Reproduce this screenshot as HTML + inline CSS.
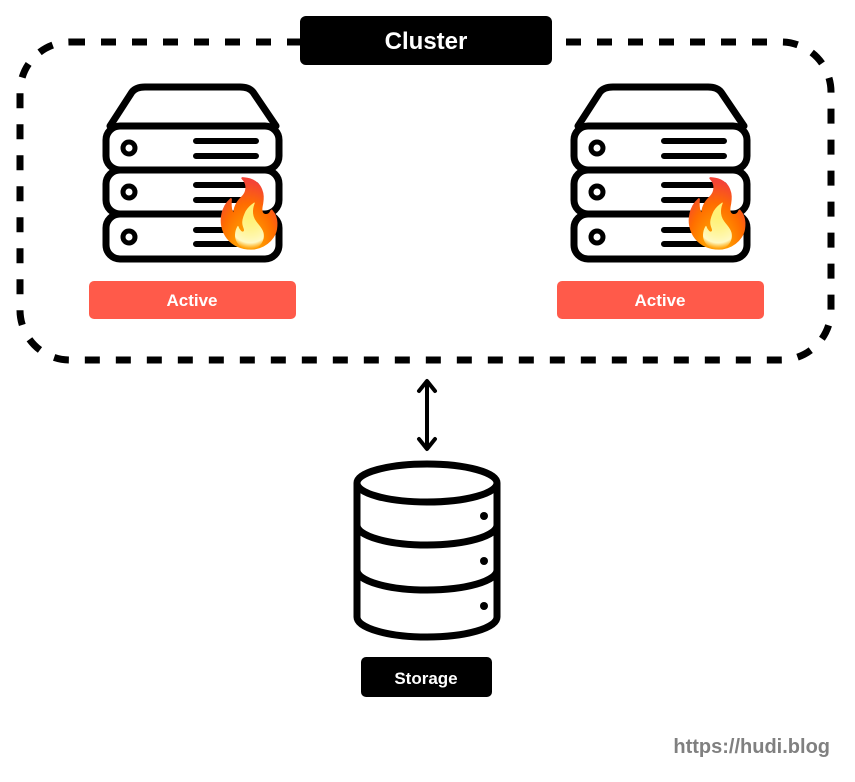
<!DOCTYPE html>
<html><head><meta charset="utf-8"><style>
html,body{margin:0;padding:0;background:#fff;}
body{width:855px;height:782px;overflow:hidden;position:relative;font-family:"Liberation Sans","DejaVu Sans",sans-serif;}
svg{position:absolute;left:0;top:0;}
.fire{position:absolute;font-size:66px;line-height:1;font-family:"Noto Color Emoji","DejaVu Sans",sans-serif;}
</style></head><body>
<svg width="855" height="782" viewBox="0 0 855 782">
<rect x="20" y="42" width="811" height="318" rx="50" fill="none" stroke="#000" stroke-width="7" stroke-dasharray="15 16"/>
<rect x="300" y="16" width="252" height="49" rx="6" fill="#000"/>
<text x="426" y="49" text-anchor="middle" font-size="24" font-weight="bold" fill="#fff" font-family="Liberation Sans, sans-serif">Cluster</text>
<g id="srv" fill="none" stroke="#000" stroke-width="7" stroke-linejoin="round" stroke-linecap="round">
<path d="M110 126 L132 92 Q136 87 145 87 L240 87 Q249 87 253 92 L276 126"/>
<rect x="106" y="126" width="173" height="44" rx="14" fill="#fff"/>
<rect x="106" y="170" width="173" height="44" rx="14" fill="#fff"/>
<rect x="106" y="214" width="173" height="45" rx="14" fill="#fff"/>
<circle cx="129" cy="148" r="6" stroke-width="5"/>
<circle cx="129" cy="192" r="6" stroke-width="5"/>
<circle cx="129" cy="237" r="6" stroke-width="5"/>
<path d="M196 141H256M196 156H256M196 185H256M196 200H256M196 230H256M196 244H256" stroke-width="6"/>
</g>
<use href="#srv" x="468"/>
<rect x="89" y="281" width="207" height="38" rx="5" fill="#FF5A4A"/>
<rect x="557" y="281" width="207" height="38" rx="5" fill="#FF5A4A"/>
<text x="192" y="306" text-anchor="middle" font-size="17" font-weight="bold" fill="#fff">Active</text>
<text x="660" y="306" text-anchor="middle" font-size="17" font-weight="bold" fill="#fff">Active</text>
<g stroke="#000" stroke-width="4" fill="none" stroke-linecap="round" stroke-linejoin="round">
<path d="M427 382V448M419 391L427 381L435 391M419 439L427 449L435 439"/>
</g>
<g fill="none" stroke="#000" stroke-width="7">
<path d="M357 483V617A70 20 0 0 0 497 617V483"/>
<ellipse cx="427" cy="483" rx="70" ry="19"/>
<path d="M357 525A70 20 0 0 0 497 525M357 570A70 20 0 0 0 497 570"/>
</g>
<circle cx="484" cy="516" r="4"/><circle cx="484" cy="561" r="4"/><circle cx="484" cy="606" r="4"/>
<rect x="361" y="657" width="131" height="40" rx="5" fill="#000"/>
<text x="426" y="684" text-anchor="middle" font-size="17" font-weight="bold" fill="#fff">Storage</text>
<text x="830" y="753" text-anchor="end" font-size="20" font-weight="bold" fill="#808080">https://hudi.blog</text>
</svg>
<div class="fire" style="left:208px;top:182px;">🔥</div>
<div class="fire" style="left:676px;top:182px;">🔥</div>
</body></html>
